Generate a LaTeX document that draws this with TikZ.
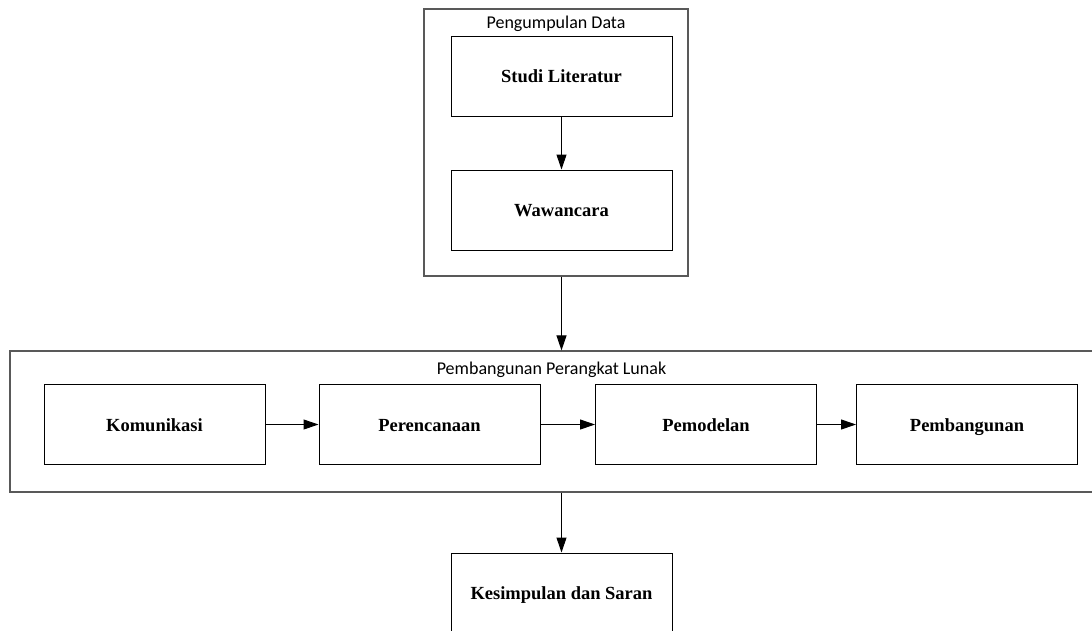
\documentclass[tikz,border=0pt]{standalone}
\usepackage{fontspec}
\setmainfont{Liberation Serif}
\newfontfamily\titlefont{Carlito}
\usetikzlibrary{arrows.meta}

\tikzset{
  stepbox/.style  = {draw = black, line width = 1pt, minimum width = 221pt,
                     minimum height = 80pt, inner sep = 0pt,
                     text height = 14pt, text depth = 1pt,
                     font = \fontsize{18.5}{20}\selectfont\bfseries},
  groupbox/.style = {draw = black!65, line width = 1.2pt, inner sep = 0pt},
  grouptitle/.style = {font = \titlefont\fontsize{18}{20}\selectfont, inner sep = 0pt,
                       text height = 12pt, text depth = 4pt},
  flow/.style     = {line width = 1pt, -{Triangle[length = 15pt, width = 10pt]}}
}

\begin{document}
\begin{tikzpicture}[x = 1pt, y = -1pt]

  \useasboundingbox (0, 0) rectangle (1092, 630);

  % Pengumpulan Data
  \node[groupbox, minimum width = 264pt, minimum height = 267pt] (gather) at (556, 142.5) {};
  \node[grouptitle] (gathertitle) at (556, 24) {Pengumpulan Data};
  \node[stepbox] (studi) at (561.5, 76)  {Studi Literatur};
  \node[stepbox] (wawan) at (561.5, 210) {Wawancara};
  \draw[flow] (studi) -- (wawan);

  % Pembangunan Perangkat Lunak
  \node[groupbox, minimum width = 1092pt, minimum height = 141pt] (build) at (556, 421.5) {};
  \node[grouptitle] (buildtitle) at (551.5, 370) {Pembangunan Perangkat Lunak};
  \node[stepbox] (komu)  at (154.5, 424.5) {Komunikasi};
  \node[stepbox] (renc)  at (429.5, 424.5) {Perencanaan};
  \node[stepbox] (model) at (706, 424.5)   {Pemodelan};
  \node[stepbox] (bangun) at (967, 424.5)  {Pembangunan};
  \draw[flow] (komu) -- (renc);
  \draw[flow] (renc) -- (model);
  \draw[flow] (model) -- (bangun);

  % Kesimpulan
  \node[stepbox] (simpul) at (561.5, 593) {Kesimpulan dan Saran};

  \draw[flow] (wawan |- gather.south) -- (wawan |- build.north);
  \draw[flow] (wawan |- build.south) -- (simpul);

\end{tikzpicture}
\end{document}
